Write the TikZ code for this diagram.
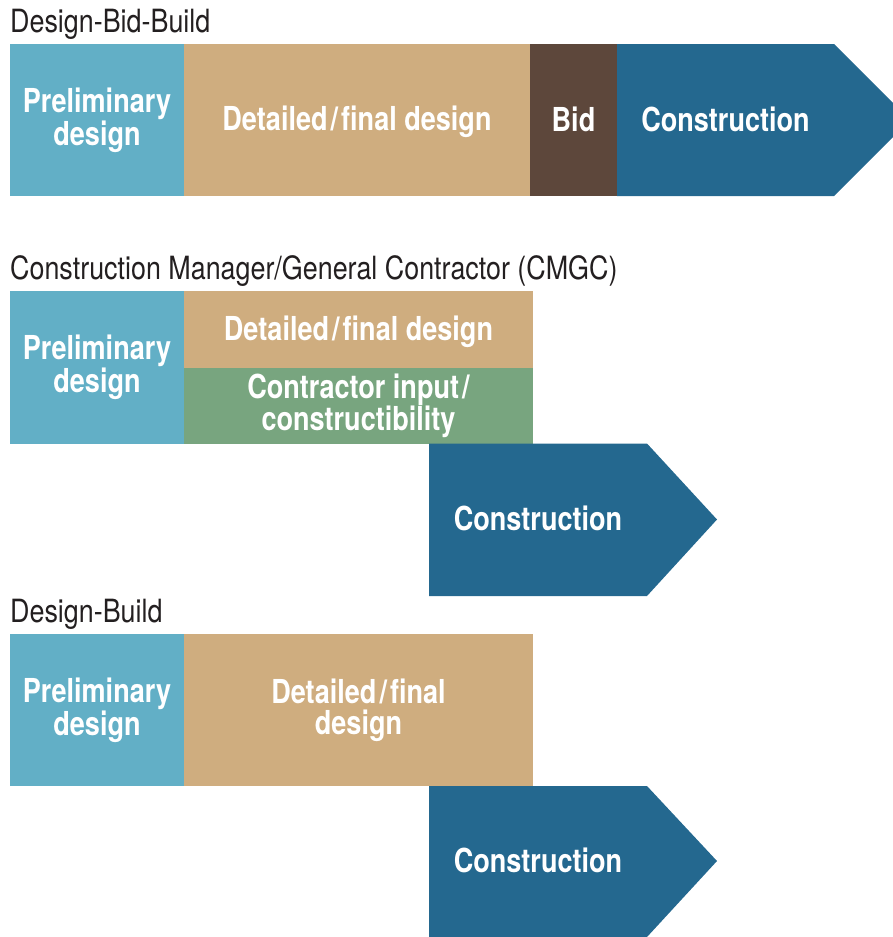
\documentclass[tikz,border=0pt]{standalone}
\usepackage{fontspec}
\newfontfamily\titlefont{TeX Gyre Heros}[FakeStretch=0.84]
\newfontfamily\boxfont{TeX Gyre Heros}[FakeStretch=0.82]
\definecolor{lblue}{HTML}{62AFC6}
\definecolor{tan}{HTML}{CFAD7F}
\definecolor{brown}{HTML}{5D473B}
\definecolor{dblue}{HTML}{24688F}
\definecolor{green}{HTML}{78A57F}
\definecolor{ink}{HTML}{231F20}
\tikzset{
  title/.style={anchor=base west, inner sep=0pt, text=ink, font=\titlefont\fontsize{32}{32}\selectfont},
  box/.style={rectangle, inner sep=0pt, outer sep=0pt, align=center, text=white,
    font=\boxfont\bfseries\fontsize{33}{31}\selectfont},
  lbl/.style={inner sep=0pt, align=center, text=white,
    font=\boxfont\bfseries\fontsize{33}{31}\selectfont}
}
\begin{document}
\begin{tikzpicture}[x=1pt,y=-1pt]
\useasboundingbox (0,0) rectangle (893,937);
\clip (0,0) rectangle (893,937);
% ---------- Design-Bid-Build ----------
\node[title] (t1) at (10,32) {Design-Bid-Build};
\node[box, fill=lblue, minimum width=174pt, minimum height=152pt] (pd1) at (97,120) {Preliminary\\design};
\node[box, fill=tan, minimum width=346pt, minimum height=152pt] (dd1) at (357,120) {};
\node[lbl] (dd1t) at (357,121.5) {Detailed\kern3pt/\kern3pt final design};
\node[box, fill=brown, minimum width=87pt, minimum height=152pt] (bid1) at (573.5,120) {};
\node[lbl] (bid1t) at (573.5,119) {Bid};
\fill[dblue] (617,44) -- (834,44) -- (910,120) -- (834,196) -- (617,196) -- cycle;
\node[lbl] (cn1) at (725.5,119) {Construction};
% ---------- CMGC ----------
\node[title] (t2) at (10,279) {Construction Manager/General Contractor (CMGC)};
\node[box, fill=lblue, minimum width=174pt, minimum height=152.5pt] (pd2) at (97,367.25) {Preliminary\\design};
\node[box, fill=tan, minimum width=349pt, minimum height=77pt] (dd2) at (358.5,329.5) {};
\node[lbl] (dd2t) at (358.5,331.5) {Detailed\kern3pt/\kern3pt final design};
\node[box, fill=green, minimum width=349pt, minimum height=75.5pt] (ci2) at (358.5,405.75) {Contractor input\kern3pt/\\constructibility};
\fill[dblue] (429,443.5) -- (647,443.5) -- (717,519.5) -- (647,596) -- (429,596) -- cycle;
\node[lbl] (cn2) at (538,518) {Construction};
% ---------- Design-Build ----------
\node[title] (t3) at (10,622) {Design-Build};
\node[box, fill=lblue, minimum width=174pt, minimum height=152pt] (pd3) at (97,710) {Preliminary\\design};
\node[box, fill=tan, minimum width=349pt, minimum height=152pt] (dd3) at (358.5,710) {Detailed\kern3pt/\kern3pt final\\design};
\fill[dblue] (429,786) -- (647,786) -- (717,861) -- (647,937) -- (429,937) -- cycle;
\node[lbl] (cn3) at (538,860) {Construction};
\end{tikzpicture}
\end{document}
